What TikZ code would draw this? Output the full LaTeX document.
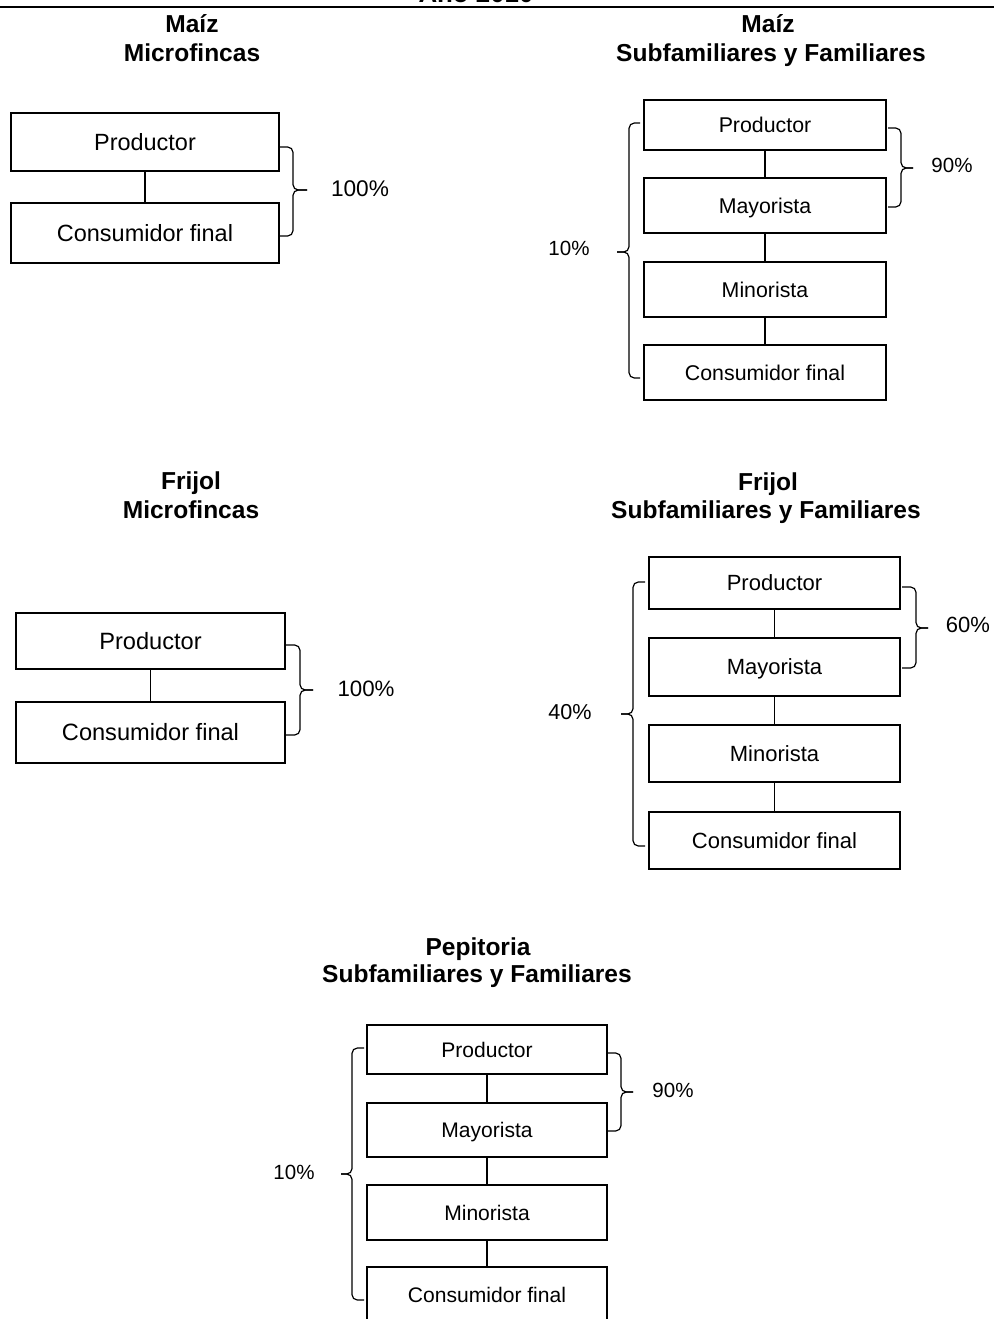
\documentclass[tikz,border=0pt]{standalone}
\usepackage{fontspec}
\setmainfont{Liberation Sans}
\newcommand\bx[7]{%
  \node[#1, minimum width={(#5-#3)*0.75pt}, minimum height={(#6-#4)*0.75pt}]
    (#2) at ({(#3+#5)/2},{(#4+#6)/2}) {#7};}
\begin{document}
\begin{tikzpicture}[x=0.75pt,y=-0.75pt,
  box/.style={draw, line width=1.2pt, inner sep=0pt, text depth=0pt, anchor=center},
  bA/.style={box, font=\fontsize{17.6}{20}\selectfont, text height=12.6pt},
  bB/.style={box, font=\fontsize{16}{19}\selectfont, text height=11.5pt},
  bC/.style={box, font=\fontsize{17.7}{20}\selectfont, text height=12.7pt},
  bD/.style={box, font=\fontsize{16.5}{19}\selectfont, text height=11.8pt},
  bE/.style={box, font=\fontsize{15.8}{19}\selectfont, text height=11.3pt},
  conn/.style={line width=0.9pt},
  brc/.style={line width=0.9pt, rounded corners=4pt},
  pct/.style={inner sep=0pt, text depth=0pt, anchor=center},
  ttl/.style={font=\fontsize{18.4}{22}\selectfont\bfseries, anchor=base, inner sep=0pt}]
\useasboundingbox (0,0) rectangle (994,1319);

% header
\node[font=\fontsize{19.4}{22}\selectfont\bfseries, anchor=base, inner sep=0pt] (anio) at (476,3) {Año 2010};
\draw[line width=1.6pt] (0,7) -- (994,7);

% ---------- Maiz Microfincas ----------
\node[ttl] (tA1) at (192,33) {Maíz};
\node[ttl] (tA2) at (192,62) {Microfincas};
\bx{bA}{aP}{11}{113}{279}{171}{Productor}
\bx{bA}{aC}{11}{203}{279}{263}{Consumidor final}
\draw[conn] (aP) -- (aC);
\draw[brc] (280,147) -- (293,147) -- (293,190) -- (307,190);
\draw[brc] (307,190) -- (293,190) -- (293,236) -- (280,236);
\node[pct, font=\fontsize{17}{20}\selectfont, text height=12.2pt] (aL) at (360,188) {100\%};

% ---------- Maiz Subfamiliares ----------
\node[ttl] (tB1) at (768,33) {Maíz};
\node[ttl] (tB2) at (771,62) {Subfamiliares y Familiares};
\bx{bB}{bP}{644}{100}{886}{150}{Productor}
\bx{bB}{bMa}{644}{178}{886}{233}{Mayorista}
\bx{bB}{bMi}{644}{262}{886}{317}{Minorista}
\bx{bB}{bC}{644}{345}{886}{400}{Consumidor final}
\draw[conn] (bP) -- (bMa);
\draw[conn] (bMa) -- (bMi);
\draw[conn] (bMi) -- (bC);
\draw[brc] (888,128) -- (901,128) -- (901,168) -- (913,168);
\draw[brc] (913,168) -- (901,168) -- (901,207) -- (888,207);
\node[pct, font=\fontsize{15.4}{18}\selectfont, text height=11pt] (bR) at (952,165) {90\%};
\draw[brc] (640,123) -- (629,123) -- (629,252) -- (617,252);
\draw[brc] (617,252) -- (629,252) -- (629,378) -- (640,378);
\node[pct, font=\fontsize{15.4}{18}\selectfont, text height=11pt] (bL) at (569,248) {10\%};

% ---------- Frijol Microfincas ----------
\node[ttl] (tC1) at (191,489) {Frijol};
\node[ttl] (tC2) at (191,518) {Microfincas};
\bx{bC}{cP}{16}{613}{285}{669}{Productor}
\bx{bC}{cC}{16}{702}{285}{763}{Consumidor final}
\draw[conn] (cP) -- (cC);
\draw[brc] (286,645) -- (300,645) -- (300,690) -- (313,690);
\draw[brc] (313,690) -- (300,690) -- (300,735) -- (286,735);
\node[pct, font=\fontsize{16.7}{20}\selectfont, text height=12pt] (cL) at (366,688) {100\%};

% ---------- Frijol Subfamiliares ----------
\node[ttl] (tD1) at (768,490) {Frijol};
\node[ttl] (tD2) at (766,518) {Subfamiliares y Familiares};
\bx{bD}{dP}{649}{557}{900}{609}{Productor}
\bx{bD}{dMa}{649}{638}{900}{696}{Mayorista}
\bx{bD}{dMi}{649}{725}{900}{782}{Minorista}
\bx{bD}{dC}{649}{812}{900}{869}{Consumidor final}
\draw[conn] (dP) -- (dMa);
\draw[conn] (dMa) -- (dMi);
\draw[conn] (dMi) -- (dC);
\draw[brc] (902,587) -- (916,587) -- (916,628) -- (928,628);
\draw[brc] (928,628) -- (916,628) -- (916,668) -- (902,668);
\node[pct, font=\fontsize{16.5}{19}\selectfont, text height=11.8pt] (dR) at (968,625) {60\%};
\draw[brc] (645,582) -- (633,582) -- (633,714) -- (621,714);
\draw[brc] (621,714) -- (633,714) -- (633,846) -- (645,846);
\node[pct, font=\fontsize{16.2}{19}\selectfont, text height=11.6pt] (dL) at (570,712) {40\%};

% ---------- Pepitoria ----------
\node[ttl] (tE1) at (478,955) {Pepitoria};
\node[ttl] (tE2) at (477,982) {Subfamiliares y Familiares};
\bx{bE}{eP}{367}{1025}{607}{1074}{Productor}
\bx{bE}{eMa}{367}{1103}{607}{1157}{Mayorista}
\bx{bE}{eMi}{367}{1185}{607}{1240}{Minorista}
\bx{bE}{eC}{367}{1267}{607}{1323}{Consumidor final}
\draw[conn] (eP) -- (eMa);
\draw[conn] (eMa) -- (eMi);
\draw[conn] (eMi) -- (eC);
\draw[brc] (608,1053) -- (621,1053) -- (621,1092) -- (633,1092);
\draw[brc] (633,1092) -- (621,1092) -- (621,1131) -- (608,1131);
\node[pct, font=\fontsize{15.4}{18}\selectfont, text height=11pt] (eR) at (673,1090) {90\%};
\draw[brc] (364,1048) -- (352,1048) -- (352,1174) -- (341,1174);
\draw[brc] (341,1174) -- (352,1174) -- (352,1300) -- (364,1300);
\node[pct, font=\fontsize{15.4}{18}\selectfont, text height=11pt] (eL) at (294,1172) {10\%};
\end{tikzpicture}
\end{document}
